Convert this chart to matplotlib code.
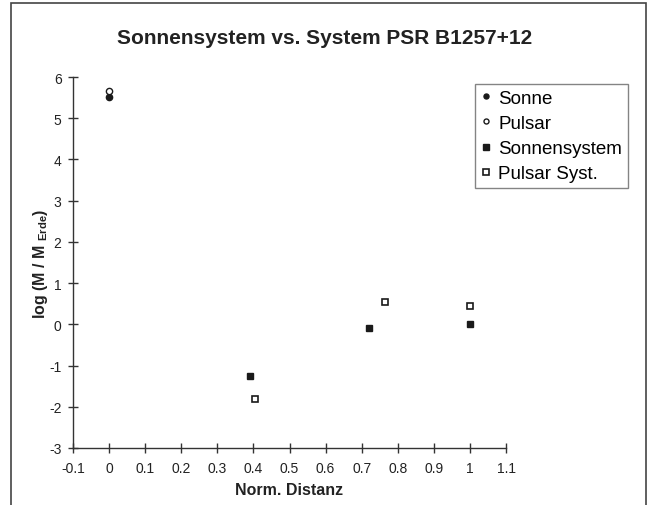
import matplotlib
matplotlib.use("Agg")
import matplotlib.pyplot as plt
from matplotlib.patches import Rectangle

plt.rcParams['font.family'] = ['Liberation Sans', 'DejaVu Sans']
plt.rcParams['axes.unicode_minus'] = False
plt.rcParams['mathtext.default'] = 'regular'

sonne_x = [0.0]
sonne_y = [5.52]
pulsar_x = [0.0]
pulsar_y = [5.65]
sonnensystem_x = [0.39, 0.72, 1.0]
sonnensystem_y = [-1.25, -0.08, 0.02]
pulsar_syst_x = [0.405, 0.765, 1.0]
pulsar_syst_y = [-1.82, 0.53, 0.45]

xticks = [-0.1, 0, 0.1, 0.2, 0.3, 0.4, 0.5, 0.6, 0.7, 0.8, 0.9, 1, 1.1]
xticklabels = ['-0.1', '0', '0.1', '0.2', '0.3', '0.4', '0.5', '0.6', '0.7', '0.8', '0.9', '1', '1.1']
yticks = [-3, -2, -1, 0, 1, 2, 3, 4, 5, 6]

fig = plt.figure(figsize=(6.49, 5.06), dpi=100)
ax = fig.add_axes([73/649, 1-449/506, (506-73)/649, (449-78)/506])

frame = Rectangle((11/649, -0.02), (646-11)/649, 1.02 - 4/506, transform=fig.transFigure,
                  fill=False, edgecolor='#444444', linewidth=1.2)
fig.patches.append(frame)

ax.plot(sonne_x, sonne_y, 'o', color='#1a1a1a', markersize=4.5, label='Sonne', clip_on=False)
ax.plot(pulsar_x, pulsar_y, 'o', markerfacecolor='white', markeredgecolor='#1a1a1a',
        markeredgewidth=1.0, markersize=4.5, label='Pulsar', clip_on=False)
ax.plot(sonnensystem_x, sonnensystem_y, 's', color='#1a1a1a', markersize=5, label='Sonnensystem')
ax.plot(pulsar_syst_x, pulsar_syst_y, 's', markerfacecolor='white', markeredgecolor='#1a1a1a',
        markeredgewidth=1.2, markersize=5, label='Pulsar Syst.')

ax.set_xlim(-0.1, 1.1)
ax.set_ylim(-3, 6)
ax.set_xticks(xticks)
ax.set_xticklabels(xticklabels)
ax.set_yticks(yticks)
ax.spines['top'].set_visible(False)
ax.spines['right'].set_visible(False)
for s in ['left', 'bottom']:
    ax.spines[s].set_color('#333333')
    ax.spines[s].set_linewidth(1.0)
ax.tick_params(direction='inout', length=6.5, width=1.0, colors='#333333', labelsize=10,
               labelcolor='#222222')
ax.tick_params(axis='x', pad=6)
ax.tick_params(axis='y', pad=5)

ax.set_xlabel('Norm. Distanz', fontsize=11.5, fontweight='bold', color='#222222', labelpad=5)
ax.set_ylabel(r'log (M / M $_{Erde}$)', fontsize=11.5, fontweight='bold', color='#222222', labelpad=-1)

fig.text(0.5, 1 - 38/506, 'Sonnensystem vs. System PSR B1257+12', ha='center', va='center',
         fontsize=15, fontweight='bold', color='#222222')

leg = ax.legend(loc='upper left', bbox_to_anchor=(475/649, 1 - 85/506), bbox_transform=fig.transFigure,
                fontsize=13.5, frameon=True, fancybox=False, edgecolor='#666666',
                handlelength=0.6, handletextpad=0.35, borderpad=0.3, labelspacing=0.43,
                markerscale=0.8, borderaxespad=0)
leg.get_frame().set_linewidth(1.0)

fig.savefig('out.png', dpi=100)
